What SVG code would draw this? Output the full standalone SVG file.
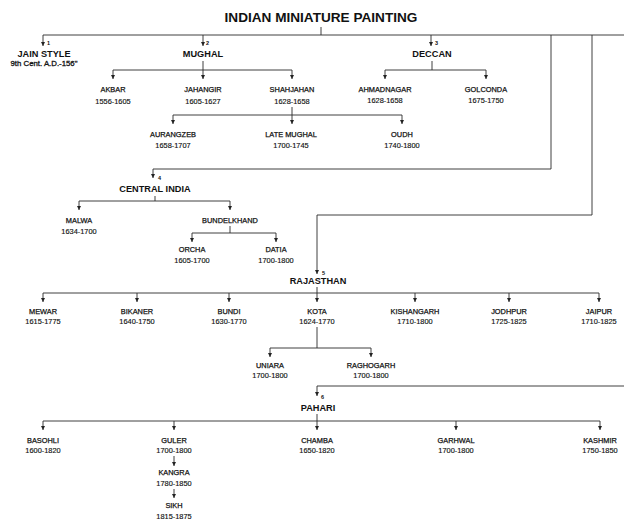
<svg xmlns="http://www.w3.org/2000/svg" width="624" height="521" viewBox="0 0 624 521">
<style>
text{font-family:"Liberation Sans",Arial,sans-serif;fill:#111;text-anchor:middle}
.t{font-size:13.6px;font-weight:bold}
.h{font-size:9.2px;font-weight:bold}
.n{font-size:7.4px;stroke:#111;stroke-width:0.25}
.d{font-size:7.4px;stroke:#111;stroke-width:0.15}
.s{font-size:7.8px;stroke:#111;stroke-width:0.3}
.k{font-size:5.5px;font-weight:bold;text-anchor:start}
.c{stroke:#2a2a2a;stroke-width:0.9;fill:none}
.a{stroke:#2a2a2a;stroke-width:0.9;fill:none;marker-end:url(#ah)}
</style>
<defs>
<marker id="ah" viewBox="0 0 6 6" refX="6" refY="3" markerWidth="4.5" markerHeight="4.5" markerUnits="userSpaceOnUse" orient="auto">
<path d="M0,0 L6,3 L0,6 z" fill="#222"/>
</marker>
</defs>
<rect width="624" height="521" fill="#fff"/>
<g id="connectors">
<path class="c" d="M321,27 V35 M43,35 H624 M551,35 V169 H153 M592,35 V215 H317"/>
<path class="a" d="M43,35 V46"/>
<path class="a" d="M203,35 V46"/>
<path class="a" d="M431,35 V46"/>
<path class="c" d="M203,61 V70 M113,70 H292"/>
<path class="a" d="M113,70 V79"/>
<path class="a" d="M203,70 V79"/>
<path class="a" d="M292,70 V79"/>
<path class="c" d="M292,107 V115 M173,115 H402"/>
<path class="a" d="M173,115 V124"/>
<path class="a" d="M292,115 V124"/>
<path class="a" d="M402,115 V124"/>
<path class="c" d="M432,61 V70 M385,70 H486"/>
<path class="a" d="M385,70 V79"/>
<path class="a" d="M486,70 V79"/>
<path class="a" d="M153,169 V178"/>
<path class="c" d="M155,196 V201 M79,201 H230"/>
<path class="a" d="M79,201 V210"/>
<path class="a" d="M230,201 V210"/>
<path class="c" d="M230,226 V233 M192,233 H276"/>
<path class="a" d="M192,233 V242"/>
<path class="a" d="M276,233 V242"/>
<path class="a" d="M317,215 V274"/>
<path class="c" d="M317,287 V293 M43,293 H599"/>
<path class="a" d="M43,293 V302"/>
<path class="a" d="M137,293 V302"/>
<path class="a" d="M229,293 V302"/>
<path class="a" d="M317,293 V302"/>
<path class="a" d="M415,293 V302"/>
<path class="a" d="M509,293 V302"/>
<path class="a" d="M599,293 V302"/>
<path class="c" d="M317,327 V348 M270,348 H371"/>
<path class="a" d="M270,348 V357"/>
<path class="a" d="M371,348 V357"/>
<path class="c" d="M317,386 H624"/>
<path class="a" d="M317,386 V396"/>
<path class="c" d="M317,414 V421 M43,421 H600"/>
<path class="a" d="M43,421 V430"/>
<path class="a" d="M174,421 V430"/>
<path class="a" d="M317,421 V430"/>
<path class="a" d="M456,421 V430"/>
<path class="a" d="M600,421 V430"/>
<path class="a" d="M174,456 V466"/>
<path class="a" d="M174,489 V498"/>
</g>
<g id="title"><text class="t" x="321" y="22">INDIAN MINIATURE PAINTING</text></g>
<g id="jain"><text class="k" x="47" y="45">1</text><text class="h" x="44" y="57">JAIN STYLE</text><text class="s" x="44" y="66">9th Cent. A.D.-156"</text></g>
<g id="mughal"><text class="k" x="206" y="45">2</text><text class="h" x="203" y="57">MUGHAL</text></g>
<g id="akbar"><text class="n" x="113" y="92">AKBAR</text><text class="d" x="113" y="104">1556-1605</text></g>
<g id="jahangir"><text class="n" x="203" y="92">JAHANGIR</text><text class="d" x="203" y="104">1605-1627</text></g>
<g id="shahjahan"><text class="n" x="292" y="92">SHAHJAHAN</text><text class="d" x="292" y="104">1628-1658</text></g>
<g id="aurangzeb"><text class="n" x="173" y="137">AURANGZEB</text><text class="d" x="173" y="148">1658-1707</text></g>
<g id="latemughal"><text class="n" x="291" y="137">LATE MUGHAL</text><text class="d" x="291" y="148">1700-1745</text></g>
<g id="oudh"><text class="n" x="402" y="137">OUDH</text><text class="d" x="402" y="148">1740-1800</text></g>
<g id="deccan"><text class="k" x="435" y="45">3</text><text class="h" x="432" y="57">DECCAN</text></g>
<g id="ahmadnagar"><text class="n" x="385" y="92">AHMADNAGAR</text><text class="d" x="385" y="103">1628-1658</text></g>
<g id="golconda"><text class="n" x="486" y="92">GOLCONDA</text><text class="d" x="486" y="103">1675-1750</text></g>
<g id="centralindia"><text class="k" x="158" y="180">4</text><text class="h" x="155" y="192">CENTRAL INDIA</text></g>
<g id="malwa"><text class="n" x="79" y="223">MALWA</text><text class="d" x="79" y="234">1634-1700</text></g>
<g id="bundelkhand"><text class="n" x="230" y="223">BUNDELKHAND</text></g>
<g id="orcha"><text class="n" x="192" y="252">ORCHA</text><text class="d" x="192" y="263">1605-1700</text></g>
<g id="datia"><text class="n" x="276" y="252">DATIA</text><text class="d" x="276" y="263">1700-1800</text></g>
<g id="rajasthan"><text class="k" x="322" y="275">5</text><text class="h" x="318" y="284">RAJASTHAN</text></g>
<g id="mewar"><text class="n" x="43" y="314">MEWAR</text><text class="d" x="43" y="324">1615-1775</text></g>
<g id="bikaner"><text class="n" x="137" y="314">BIKANER</text><text class="d" x="137" y="324">1640-1750</text></g>
<g id="bundi"><text class="n" x="229" y="314">BUNDI</text><text class="d" x="229" y="324">1630-1770</text></g>
<g id="kota"><text class="n" x="317" y="314">KOTA</text><text class="d" x="317" y="324">1624-1770</text></g>
<g id="kishangarh"><text class="n" x="415" y="314">KISHANGARH</text><text class="d" x="415" y="324">1710-1800</text></g>
<g id="jodhpur"><text class="n" x="509" y="314">JODHPUR</text><text class="d" x="509" y="324">1725-1825</text></g>
<g id="jaipur"><text class="n" x="599" y="314">JAIPUR</text><text class="d" x="599" y="324">1710-1825</text></g>
<g id="uniara"><text class="n" x="270" y="368">UNIARA</text><text class="d" x="270" y="378">1700-1800</text></g>
<g id="raghogarh"><text class="n" x="371" y="368">RAGHOGARH</text><text class="d" x="371" y="378">1700-1800</text></g>
<g id="pahari"><text class="k" x="321" y="399">6</text><text class="h" x="318" y="411">PAHARI</text></g>
<g id="basohli"><text class="n" x="43" y="443">BASOHLI</text><text class="d" x="43" y="453">1600-1820</text></g>
<g id="guler"><text class="n" x="174" y="443">GULER</text><text class="d" x="174" y="453">1700-1800</text></g>
<g id="chamba"><text class="n" x="317" y="443">CHAMBA</text><text class="d" x="317" y="453">1650-1820</text></g>
<g id="garhwal"><text class="n" x="456" y="443">GARHWAL</text><text class="d" x="456" y="453">1700-1800</text></g>
<g id="kashmir"><text class="n" x="600" y="443">KASHMIR</text><text class="d" x="600" y="453">1750-1850</text></g>
<g id="kangra"><text class="n" x="174" y="475">KANGRA</text><text class="d" x="174" y="486">1780-1850</text></g>
<g id="sikh"><text class="n" x="174" y="508">SIKH</text><text class="d" x="174" y="519">1815-1875</text></g>
</svg>
